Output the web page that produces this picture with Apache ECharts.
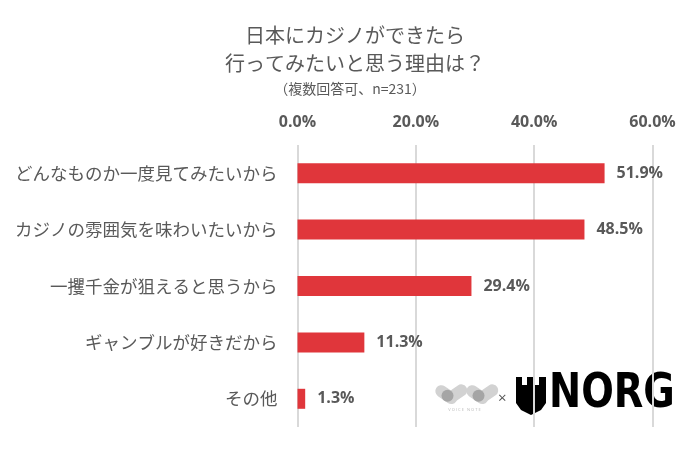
<!DOCTYPE html>
<html>
<head>
<meta charset="utf-8">
<script src="https://cdn.jsdelivr.net/npm/echarts@6/dist/echarts.min.js"></script>
<style>html,body{margin:0;padding:0;background:#fff;}#c{width:700px;height:450px;}</style>
</head>
<body>
<div id="c"></div>
<script>
const titleLines = ['日本にカジノができたら', '行ってみたいと思う理由は？'];
const subtitle = '（複数回答可、n=231）';
const categories = ['どんなものか一度見てみたいから', 'カジノの雰囲気を味わいたいから', '一攫千金が狙えると思うから', 'ギャンブルが好きだから', 'その他'];
const values = [51.9, 48.5, 29.4, 11.3, 1.3];
const axisMin = 0, axisMax = 60, axisStep = 20;

const JP = '"Noto Sans CJK JP", "Noto Sans", sans-serif';
const NUM = '"Open Sans", "Noto Sans", sans-serif';
const chart = echarts.init(document.getElementById('c'), null, {renderer: 'canvas'});
chart.setOption({
  backgroundColor: '#ffffff',
  animation: false,
  title: [
    {text: titleLines.join('\n'), left: 350, top: 16, textAlign: 'center',
     textStyle: {fontFamily: JP, fontSize: 20, fontWeight: 'normal', color: '#595959', lineHeight: 28}},
    {text: subtitle, left: 345, top: 76, textAlign: 'center',
     textStyle: {fontFamily: JP, fontSize: 14, fontWeight: 'normal', color: '#595959', lineHeight: 16}}
  ],
  grid: {left: 297.5, right: 47.5, top: 145, bottom: 23, containLabel: false},
  xAxis: {
    type: 'value', position: 'top', min: axisMin, max: axisMax, interval: axisStep,
    axisLine: {show: false}, axisTick: {show: false},
    splitLine: {show: true, lineStyle: {color: '#d9d9d9', width: 2}},
    axisLabel: {margin: 15, fontFamily: NUM, fontSize: 16, fontWeight: 'bold', color: '#595959',
      formatter: v => v.toFixed(1) + '%'}
  },
  yAxis: {
    type: 'category', data: categories, inverse: true,
    axisLine: {show: false}, axisTick: {show: false},
    axisLabel: {margin: 20, fontFamily: JP, fontSize: 17.5, color: '#595959'}
  },
  series: [{
    type: 'bar', data: values, barWidth: 20,
    itemStyle: {color: '#e0363b'},
    label: {show: true, position: 'right', distance: 12, fontFamily: NUM, fontSize: 16, fontWeight: 'bold', color: '#595959',
      formatter: p => p.value.toFixed(1) + '%'}
  }],
  graphic: [
    // Voice Note mark
    {type: 'group', left: 433, top: 382, children: [
      {type: 'rect', shape: {x: -5, y: -6, width: 24, height: 12, r: 6}, x: 9, y: 10, rotation: -0.6, style: {fill: '#d2d2d2'}},
      {type: 'rect', shape: {x: -5, y: -6, width: 24, height: 12, r: 6}, x: 19, y: 17, rotation: 0.6, style: {fill: '#d2d2d2'}},
      {type: 'circle', shape: {cx: 16, cy: 15, r: 6}, style: {fill: '#a5a5a5'}},
      {type: 'rect', shape: {x: -5, y: -6, width: 24, height: 12, r: 6}, x: 40, y: 10, rotation: -0.6, style: {fill: '#d2d2d2'}},
      {type: 'rect', shape: {x: -5, y: -6, width: 24, height: 12, r: 6}, x: 50, y: 17, rotation: 0.6, style: {fill: '#d2d2d2'}},
      {type: 'circle', shape: {cx: 47, cy: 15, r: 6}, style: {fill: '#a5a5a5'}},
      {type: 'text', x: 33, y: 29, style: {text: 'V O I C E   N O T E', fontSize: 4, fill: '#b8b8b8', align: 'center', verticalAlign: 'middle', fontFamily: NUM}}
    ]},
    {type: 'text', left: 498, top: 391, style: {text: '×', fontSize: 15, fill: '#555555', fontFamily: NUM}},
    // NORG crown
    {type: 'polygon', shape: {points: [[516,377],[522,377],[522,385],[527,385],[527,377],[534,377],[534,385],[539,385],[539,377],[546,377],[546,403],[541,410],[531,415],[521,410],[516,403]]}, style: {fill: '#000000'}},
    {type: 'group', x: 549, y: 395, scaleX: 0.8, children: [
      {type: 'text', x: 0, y: 0, style: {text: 'NORG', fontSize: 48, fontWeight: 'bold', fill: '#000000', fontFamily: '"DejaVu Sans", sans-serif', align: 'left', verticalAlign: 'middle'}}
    ]}
  ]
});
</script>
</body>
</html>
